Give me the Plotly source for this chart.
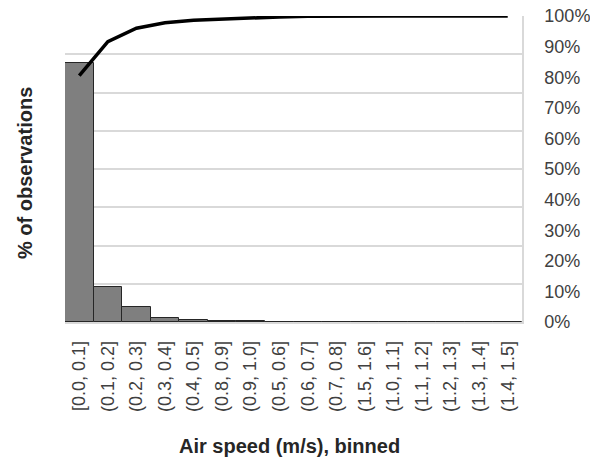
import plotly.graph_objects as go

categories = ["[0.0, 0.1]", "(0.1, 0.2]", "(0.2, 0.3]", "(0.3, 0.4]", "(0.4, 0.5]",
              "(0.8, 0.9]", "(0.9, 1.0]", "(0.5, 0.6]", "(0.6, 0.7]", "(0.7, 0.8]",
              "(1.5, 1.6]", "(1.0, 1.1]", "(1.1, 1.2]", "(1.2, 1.3]", "(1.3, 1.4]", "(1.4, 1.5]"]
pct_obs = [80.5, 11.0, 4.6, 1.2, 0.5, 0.25, 0.2, 0.05, 0.05, 0.05, 0, 0, 0, 0, 0, 0]
cumulative = [80.5, 91.6, 96.0, 97.8, 98.6, 99.0, 99.4, 99.7, 99.9, 100, 100, 100, 100, 100, 100, 100]
right_ticks = list(range(0, 101, 10))

FONT = "Liberation Sans, Arial, sans-serif"

fig = go.Figure()
fig.add_trace(go.Bar(x=categories, y=pct_obs, marker=dict(color="#7f7f7f", line=dict(color="#262626", width=1)),
                     yaxis="y"))
fig.add_trace(go.Scatter(x=categories, y=cumulative, mode="lines", line=dict(color="black", width=3.5),
                         yaxis="y2"))

fig.update_layout(
    width=590, height=458,
    margin=dict(l=65, r=68, t=16, b=136),
    plot_bgcolor="white", paper_bgcolor="white",
    showlegend=False, bargap=0,
    font=dict(family=FONT, color="#404040"),
    xaxis=dict(type="category", tickangle=-90, showline=True, linecolor="#d9d9d9", linewidth=1.5,
               showgrid=False, ticks="", tickfont=dict(size=18, color="#404040"), ticklabelstandoff=10,
               automargin=False),
    yaxis=dict(range=[0, 95.2], dtick=11.9, showticklabels=False, showgrid=True, gridcolor="#d9d9d9",
               gridwidth=1.5, zeroline=False, ticks="", automargin=False),
    yaxis2=dict(overlaying="y", side="right", range=[0, 100], tickvals=right_ticks,
                ticktext=[f"{v}%" for v in right_ticks], showgrid=False, zeroline=False,
                showline=True, linecolor="#d9d9d9", linewidth=1.5, ticks="",
                tickfont=dict(size=18, color="#404040"), ticklabelstandoff=17, automargin=False),
    annotations=[
        dict(text="<b>Air speed (m/s), binned</b>", xref="paper", yref="paper", x=0.492, y=-0.405,
             showarrow=False, font=dict(size=20, color="#262626"), xanchor="center", yanchor="middle"),
        dict(text="<b>% of observations</b>", xref="paper", yref="paper", x=-0.0875, y=0.487,
             showarrow=False, font=dict(size=20, color="#262626"), textangle=-90,
             xanchor="center", yanchor="middle"),
    ],
)

fig.write_html("out.html")
